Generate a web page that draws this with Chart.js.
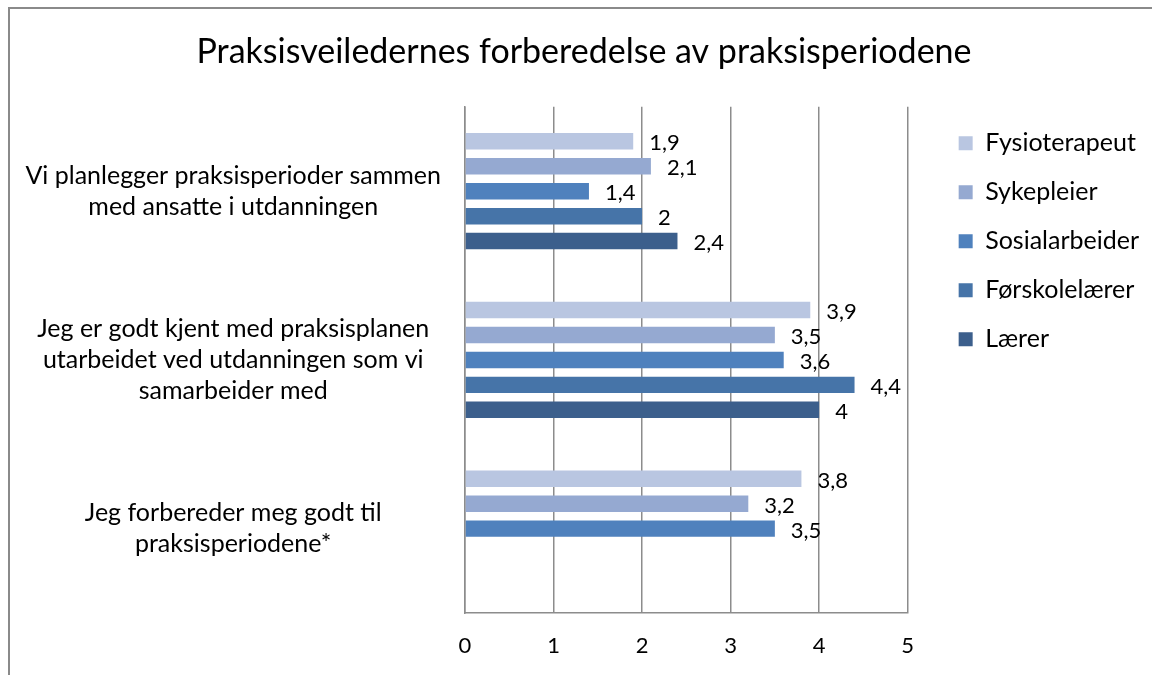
<!DOCTYPE html>
<html>
<head>
<meta charset="utf-8">
<script src="https://cdn.jsdelivr.net/npm/chart.js@4"></script>
<style>
  html, body { margin: 0; padding: 0; background: #fff; overflow: hidden; }
  #frame { position: absolute; left: 8px; top: 7px; width: 1200px; height: 720px; border: 2px solid #8a8a8a; }
  #wrap { position: absolute; left: 0; top: 0; width: 1152px; height: 675px; }
</style>
</head>
<body>
<div id="frame"></div>
<div id="wrap"><canvas id="chart"></canvas></div>
<script>
// kategorier (y-aksen), én rad per linje
const categories = [
  ["Vi planlegger praksisperioder sammen", "med ansatte i utdanningen"],
  ["Jeg er godt kjent med praksisplanen", "utarbeidet ved utdanningen som vi", "samarbeider med"],
  ["Jeg forbereder meg godt til", "praksisperiodene*"],
];

// verdier per yrkesgruppe
const fysioterapeut = [1.9, 3.9, 3.8];
const sykepleier = [2.1, 3.5, 3.2];
const sosialarbeider = [1.4, 3.6, 3.5];
const forskolelaerer = [2, 4.4, null];
const laerer = [2.4, 4, null];

const seriesNames = ["Fysioterapeut", "Sykepleier", "Sosialarbeider", "Førskolelærer", "Lærer"];
const seriesColors = ["#b9c6e1", "#95a9d1", "#4f81bd", "#4674a8", "#3c5f8c"];
const xTicks = [0, 1, 2, 3, 4, 5];

const FONT = "Lato";

// tall-etiketter ved enden av stolpene
const valueLabels = {
  id: "valueLabels",
  afterDatasetsDraw(chart) {
    const ctx = chart.ctx;
    ctx.save();
    ctx.font = `22px ${FONT}`;
    ctx.fillStyle = "#000";
    ctx.textAlign = "left";
    ctx.textBaseline = "middle";
    chart.data.datasets.forEach((ds, i) => {
      chart.getDatasetMeta(i).data.forEach((bar, j) => {
        const v = ds.data[j];
        if (v == null) return;
        ctx.fillText(String(v).replace(".", ","), bar.x + 16, bar.y + 2);
      });
    });
    ctx.restore();
  },
};

// flytt legenden og tittelen litt til høyre
const shiftBlocks = {
  id: "shiftBlocks",
  afterLayout(chart) {
    chart.legend.left += 27;
    chart.legend.right += 27;
    chart.titleBlock.left += 18;
    chart.titleBlock.right += 18;
  },
};

const datasets = [fysioterapeut, sykepleier, sosialarbeider, forskolelaerer, laerer].map((data, i) => ({
  label: seriesNames[i],
  data: data,
  backgroundColor: seriesColors[i],
  categoryPercentage: 0.74,
  barPercentage: 0.66,
}));

new Chart(document.getElementById("chart"), {
  type: "bar",
  data: { labels: categories, datasets: datasets },
  plugins: [valueLabels, shiftBlocks],
  options: {
    indexAxis: "y",
    responsive: true,
    maintainAspectRatio: false,
    animation: false,
    layout: { padding: { left: 10, top: 9, right: 30, bottom: 10 } },
    plugins: {
      title: {
        display: true,
        text: "Praksisveiledernes forberedelse av praksisperiodene",
        color: "#000",
        font: { family: FONT, size: 34, weight: "normal" },
        padding: { top: 23, bottom: 34 },
      },
      legend: {
        position: "right",
        align: "start",
        fullSize: false,
        labels: {
          boxWidth: 14,
          boxHeight: 14,
          padding: 24,
          color: "#000",
          font: { family: FONT, size: 25 },
        },
      },
      tooltip: { enabled: false },
    },
    scales: {
      x: {
        min: 0,
        max: 5,
        afterBuildTicks(scale) {
          scale.ticks = xTicks.map((v) => ({ value: v }));
        },
        afterFit(scale) {
          scale.height = 52;
        },
        grid: { color: "#8c8c8c", lineWidth: 1.5, drawTicks: false },
        border: { color: "#8c8c8c", width: 1.5 },
        ticks: { color: "#000", padding: 20, font: { family: FONT, size: 22 } },
      },
      y: {
        afterFit(scale) {
          scale.width = 455;
          scale.paddingTop = 0;
          scale.paddingBottom = 0;
        },
        grid: { display: false, drawTicks: false },
        border: { display: true, color: "#8c8c8c", width: 1.5 },
        ticks: {
          color: "#000",
          crossAlign: "center",
          padding: 24,
          font: { family: FONT, size: 25, lineHeight: 1.25 },
        },
      },
    },
  },
});
</script>
</body>
</html>
